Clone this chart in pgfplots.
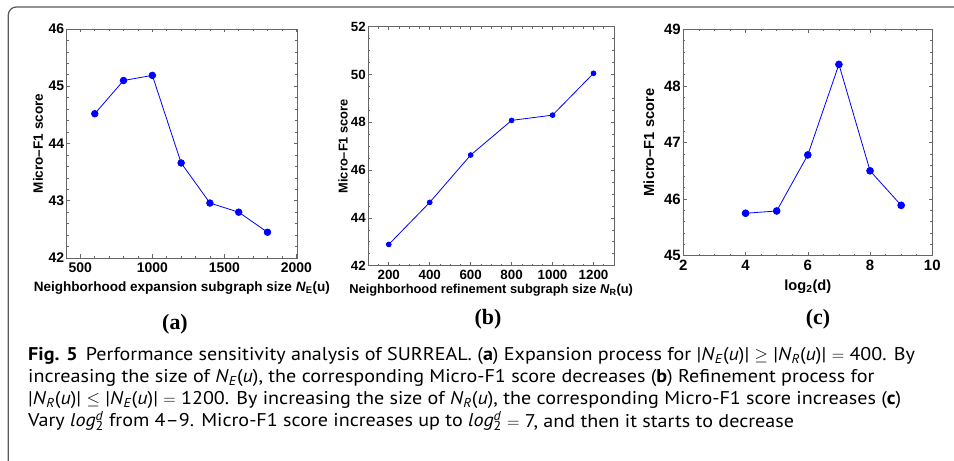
\documentclass[border=0pt]{standalone}
\usepackage{fontspec}
\setmainfont{Liberation Serif}
\setsansfont{Liberation Sans}
\newfontfamily\capfont{PT Sans}[FakeStretch=1.09]
\usepackage{pgfplots}
\pgfplotsset{compat=1.18}
\newcommand\NE{|\textit{N}\textsubscript{\textit{E}}(\textit{u})|}
\newcommand\NR{|\textit{N}\textsubscript{\textit{R}}(\textit{u})|}
\newcommand\NEs{\textit{N}\textsubscript{\textit{E}}(\textit{u})}
\newcommand\NRs{\textit{N}\textsubscript{\textit{R}}(\textit{u})}
\newcommand\logd{\textit{log}\rlap{\textsubscript{2}}\textsuperscript{\textit{d}}}
\pgfplotsset{
  mstyle/.style 2 args={
    scale only axis,
    axis line style={black!60, line width=0.8bp},
    every tick/.style={black!60, line width=0.6bp},
    major tick length=3.5bp, minor tick length=2bp,
    tick align=inside,
    ticklabel style={font=\sffamily\bfseries\fontsize{#1}{#1}\selectfont, text=black},
    xticklabel style={yshift=-1bp},
    yticklabel style={xshift=1bp},
    /pgf/number format/assume math mode=true,
    /pgf/number format/1000 sep={},
    label style={font=\sffamily\bfseries\fontsize{#2}{#2}\selectfont},
    xlabel style={anchor=center},
    ylabel style={anchor=center},
  },
  mplot/.style={blue, line width=0.8bp, mark=*, mark options={fill=blue, draw=blue}},
}
\begin{document}
\begin{tikzpicture}
\useasboundingbox (0bp,0bp) rectangle (954bp,461bp);
\draw[line width=1.2bp, black!65, rounded corners=8bp] (8.3bp,-30bp) -- (8.3bp,454bp) -- (990bp,454bp);
% (a)
\begin{axis}[mstyle={14}{13.6}, at={(66.7bp,203bp)}, anchor=south west, width=230.3bp, height=229bp,
  xmin=405, xmax=2005, ymin=42, ymax=46,
  xtick={500,1000,1500,2000}, ytick={42,43,44,45,46},
  minor xtick={400,500,...,2000}, minor ytick={42,42.2,...,46},
  xlabel={Neighborhood expansion subgraph size \textit{N}\textsubscript{E}(u)},
  ylabel={Micro--F1 score},
  xlabel style={at={(axis description cs:0.5,-0.131)}},
  ylabel style={at={(axis description cs:-0.125,0.5)}},
]
\addplot[mplot, mark size=3.3bp] coordinates {(600,44.52) (800,45.10) (1000,45.19) (1200,43.66) (1400,42.96) (1600,42.80) (1800,42.45)};
\end{axis}
% (b)
\begin{axis}[mstyle={13.4}{12.9}, at={(368.3bp,195.3bp)}, anchor=south west, width=245.7bp, height=239bp,
  xmin=100, xmax=1300, ymin=42, ymax=52,
  xtick={200,400,...,1200}, ytick={42,44,...,52},
  minor xtick={100,150,...,1300}, minor ytick={42,42.5,...,52},
  xlabel={Neighborhood refinement subgraph size \textit{N}\textsubscript{R}(u)},
  ylabel={Micro--F1 score},
  xlabel style={at={(axis description cs:0.5,-0.102)}},
  ylabel style={at={(axis description cs:-0.103,0.5)}},
]
\addplot[mplot, mark size=2.4bp] coordinates {(200,42.89) (400,44.65) (600,46.63) (800,48.08) (1000,48.30) (1200,50.05)};
\end{axis}
% (c)
\begin{axis}[mstyle={15}{14.7}, at={(683.3bp,205.3bp)}, anchor=south west, width=249bp, height=226.4bp,
  xmin=2, xmax=10, ymin=45, ymax=49,
  xtick={2,4,...,10}, ytick={45,46,...,49},
  minor xtick={2,2.5,...,10}, minor ytick={45,45.2,...,49},
  xlabel={log\textsubscript{2}(d)},
  ylabel={Micro--F1 score},
  xlabel style={at={(axis description cs:0.5,-0.138)}},
  ylabel style={at={(axis description cs:-0.138,0.5)}},
]
\addplot[mplot, mark size=3.4bp] coordinates {(4,45.75) (5,45.79) (6,46.78) (7,48.38) (8,46.50) (9,45.89)};
\end{axis}
\node[font=\bfseries\fontsize{22}{22}\selectfont] at (175bp,137bp) {(a)};
\node[font=\bfseries\fontsize{22}{22}\selectfont] at (488bp,142bp) {(b)};
\node[font=\bfseries\fontsize{22}{22}\selectfont] at (818bp,142bp) {(c)};
\node[anchor=base west, align=left, inner sep=0pt, font=\capfont\fontsize{18.5}{22.3}\selectfont] at (28bp,34bp) {%
\textbf{Fig. 5}\hspace{0.45em}Performance sensitivity analysis of SURREAL. (\textbf{a}) Expansion process for \NE\ $\geq$ \NR\ $=$ 400. By\\
increasing the size of \NEs, the corresponding Micro-F1 score decreases (\textbf{b}) Refinement process for\\
\NR\ $\leq$ \NE\ $=$ 1200. By increasing the size of \NRs, the corresponding Micro-F1 score increases (\textbf{c})\\
Vary \logd\ from 4–9. Micro-F1 score increases up to \logd\ $=$ 7, and then it starts to decrease};
\end{tikzpicture}
\end{document}
